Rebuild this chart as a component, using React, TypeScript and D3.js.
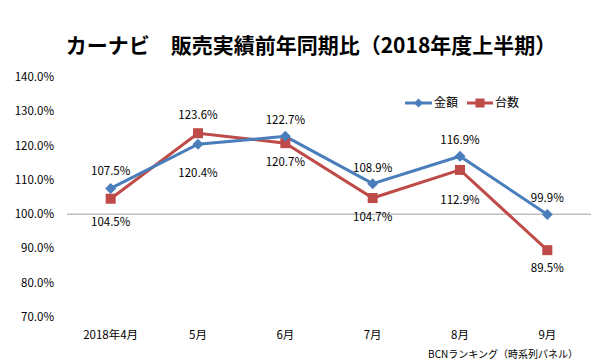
import React from "react";
import * as d3 from "d3";

const categories = ["2018年4月", "5月", "6月", "7月", "8月", "9月"];
const amountValues = [107.5, 120.4, 122.7, 108.9, 116.9, 99.9];
const unitValues = [104.5, 123.6, 120.7, 104.7, 112.9, 89.5];
const yTicks = [70, 80, 90, 100, 110, 120, 130, 140];
const seriesNames = ["金額", "台数"];
// label vertical offsets (px) relative to the point
const amountLabelDy = [-17, 29, -16, -16, -16, -17];
const unitLabelDy = [23, -18, 19, 19, 30, 18];

const W = 600;
const H = 363;
const BLUE = "#4a7ebb";
const RED = "#be4b48";
const FONT = "'Noto Sans CJK JP', 'Noto Sans', sans-serif";

export default function App() {
  const x = d3.scaleBand().domain(categories).range([67, 591]);
  const y = d3.scaleLinear().domain([70, 140]).range([317, 77]);
  const cx = (c: string) => (x(c) as number) + x.bandwidth() / 2;
  const line = d3
    .line<number>()
    .x((_, i) => cx(categories[i]))
    .y((v) => y(v));

  const diamond = (px: number, py: number, r = 5.5) =>
    `M${px},${py - r}L${px + r},${py}L${px},${py + r}L${px - r},${py}Z`;

  return (
    <svg
      width={W}
      height={H}
      style={{ position: "absolute", left: 0, top: 0, background: "#fff" }}
      fontFamily={FONT}
    >
      <rect width={W} height={H} fill="#fff" />
      <text x={311} y={53} textAnchor="middle" fontSize={21} fontWeight="bold" fill="#000">
        カーナビ　販売実績前年同期比（2018年度上半期）
      </text>
      {yTicks.map((t) => (
        <text key={t} x={54} y={y(t)} dy="0.35em" textAnchor="end" fontSize={11.5} fill="#000">
          {t.toFixed(1)}%
        </text>
      ))}
      <line x1={67} x2={591} y1={y(100)} y2={y(100)} stroke="#bfbfbf" strokeWidth={1.5} />
      {categories.map((c) => (
        <text key={c} x={cx(c)} y={335} dy="0.35em" textAnchor="middle" fontSize={11.5} fill="#000">
          {c}
        </text>
      ))}
      <path d={line(unitValues) || ""} fill="none" stroke={RED} strokeWidth={3} />
      <path d={line(amountValues) || ""} fill="none" stroke={BLUE} strokeWidth={3} />
      {unitValues.map((v, i) => (
        <rect key={"u" + i} x={cx(categories[i]) - 5} y={y(v) - 5} width={10} height={10} fill={RED} />
      ))}
      {amountValues.map((v, i) => (
        <path key={"a" + i} d={diamond(cx(categories[i]), y(v))} fill={BLUE} />
      ))}
      {amountValues.map((v, i) => (
        <text key={"al" + i} x={cx(categories[i])} y={y(v) + amountLabelDy[i]} dy="0.35em" textAnchor="middle" fontSize={11.5} fill="#000">
          {v.toFixed(1)}%
        </text>
      ))}
      {unitValues.map((v, i) => (
        <text key={"ul" + i} x={cx(categories[i])} y={y(v) + unitLabelDy[i]} dy="0.35em" textAnchor="middle" fontSize={11.5} fill="#000">
          {v.toFixed(1)}%
        </text>
      ))}
      <g>
        <line x1={405} x2={432} y1={103} y2={103} stroke={BLUE} strokeWidth={3} />
        <path d={diamond(418.5, 103, 4.5)} fill={BLUE} />
        <text x={434} y={103} dy="0.35em" fontSize={12} fill="#000">{seriesNames[0]}</text>
        <line x1={467} x2={493} y1={103} y2={103} stroke={RED} strokeWidth={3} />
        <rect x={475.5} y={98.5} width={9} height={9} fill={RED} />
        <text x={495} y={103} dy="0.35em" fontSize={12} fill="#000">{seriesNames[1]}</text>
      </g>
      <text x={578} y={354} dy="0.35em" textAnchor="end" fontSize={10} fill="#000">
        BCNランキング（時系列パネル）
      </text>
    </svg>
  );
}
